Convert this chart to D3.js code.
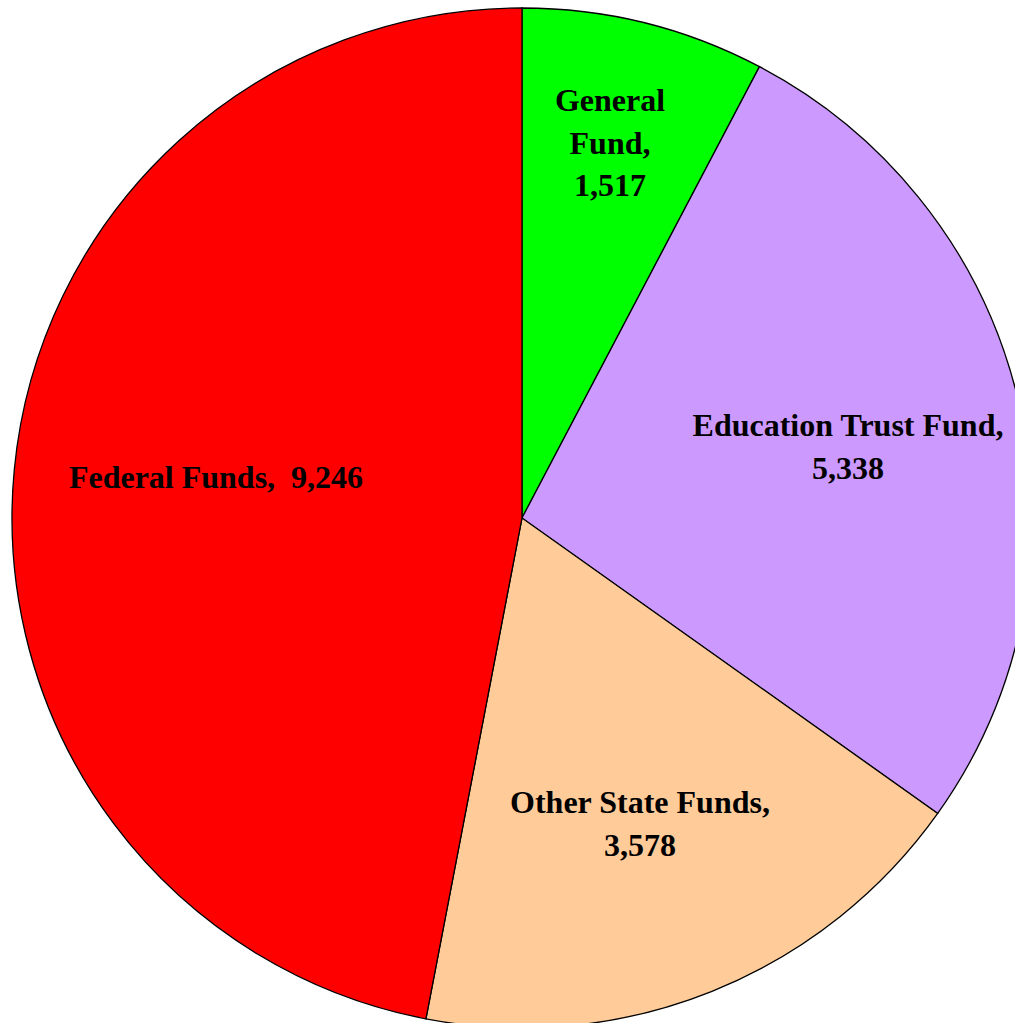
<!DOCTYPE html>
<html><head><meta charset="utf-8">
<script src="https://cdn.jsdelivr.net/npm/d3@7"></script>
<style>html,body{margin:0;padding:0;background:#fff;overflow:hidden}</style>
</head><body>
<svg id="c" width="1015" height="1023"></svg>
<script>
const categories = ["General Fund", "Education Trust Fund", "Other State Funds", "Federal Funds"];
const values = [1517, 5338, 3578, 9246];
const colors = ["#00FF00", "#CC99FF", "#FFCC99", "#FF0000"];
const labelLines = [["General", "Fund,", "1,517"], ["Education Trust Fund,", "5,338"], ["Other State Funds,", "3,578"], ["Federal Funds,  9,246"]];
const labelPos = [[610, 100], [848, 425], [640, 802], [216, 477]];

const svg = d3.select("#c");
const cx = 522, cy = 518, r = 510;
const pie = d3.pie().sort(null).value(d => d)(values);
const arc = d3.arc().innerRadius(0).outerRadius(r);
const g = svg.append("g").attr("transform", `translate(${cx},${cy})`);
g.selectAll("path").data(pie).join("path")
  .attr("d", arc).attr("fill", (d, i) => colors[i])
  .attr("stroke", "#000").attr("stroke-width", 1.3);

const t = svg.selectAll("text.lbl").data(labelLines).join("text")
  .attr("class", "lbl")
  .attr("text-anchor", "middle")
  .attr("font-family", "'Liberation Serif','Times New Roman',serif")
  .attr("font-weight", "bold").attr("font-size", 32)
  .attr("xml:space", "preserve")
  .style("white-space", "pre");
t.each(function(lines, i) {
  const el = d3.select(this);
  lines.forEach((s, j) => {
    el.append("tspan").attr("x", labelPos[i][0]).attr("y", labelPos[i][1] + j * 42.5 + 11).text(s);
  });
});
</script>
</body></html>
